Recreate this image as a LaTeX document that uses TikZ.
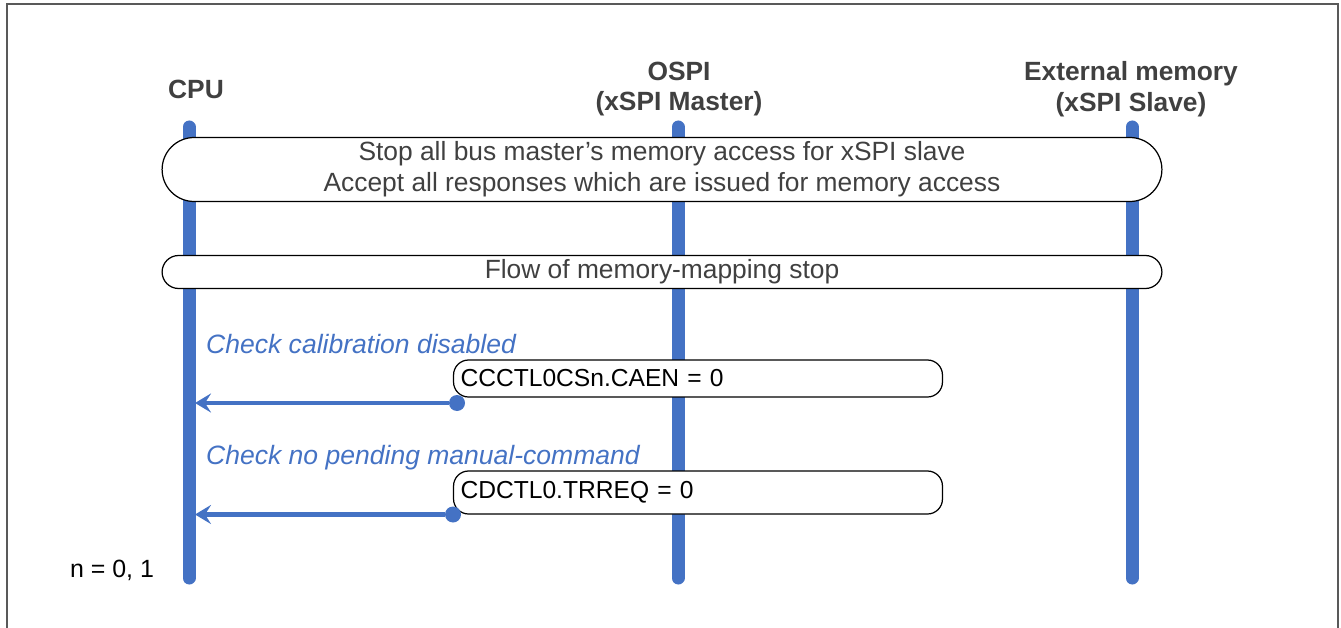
\documentclass[tikz,border=0pt]{standalone}
\usepackage{fontspec}
\setmainfont{Liberation Sans}
\usetikzlibrary{arrows.meta,positioning}
\definecolor{lifeblue}{RGB}{68,114,196}
\definecolor{headgray}{RGB}{64,64,64}
\definecolor{framegray}{RGB}{89,89,89}
\tikzset{
  lifeline/.style={line width=7.4pt,lifeblue,line cap=round},
  headtext/.style={font=\fontsize{15}{17.6}\selectfont\bfseries,text=headgray,align=center},
  banner/.style={draw,line width=0.7pt,fill=white,minimum width=20cm,inner ysep=0pt,
                 align=center,font=\fontsize{15}{17.6}\selectfont,text=headgray},
  regbox/.style={draw,line width=0.7pt,fill=white,rounded corners=0.3cm,
                 text width=9.5cm,inner xsep=0.14cm,inner ysep=0pt,align=left,
                 font=\fontsize{14}{17}\selectfont},
  checknote/.style={font=\fontsize{15.1}{17}\selectfont\itshape,text=lifeblue,anchor=west},
  enddot/.style={circle,fill=lifeblue,inner sep=0pt,minimum size=0.32cm},
  reply/.style={line width=2.3pt,lifeblue,-{Stealth[length=0.32cm,width=0.38cm,inset=0.12cm]}}
}
\begin{document}
\begin{tikzpicture}[x=0.02cm,y=-0.02cm]
  \useasboundingbox (0,0) rectangle (1341,628);
  % frame
  \draw[framegray,line width=1.1pt] (7,640) -- (7,4) -- (1338,4) -- (1338,640);
  % heads
  \node[headtext] (cpu) at (196,89) {CPU};
  \node[headtext] (ospi) at (679,89) {OSPI\\(xSPI Master)};
  \node[headtext] (extmem) at (1131,89) {External memory\\(xSPI Slave)};
  % lifelines
  \coordinate (cputop) at (189,127);
  \coordinate (cpubot) at (189,578);
  \coordinate (ospitop) at (678,127);
  \coordinate (ospibot) at (678,578);
  \coordinate (exttop) at (1132,127);
  \coordinate (extbot) at (1132,578);
  \draw[lifeline] (cputop) -- (cpubot);
  \draw[lifeline] (ospitop) -- (ospibot);
  \draw[lifeline] (exttop) -- (extbot);
  % banners
  \node[banner,minimum height=1.28cm,rounded corners=0.64cm] (stopall) at (662,169.5)
    {Stop all bus master’s memory access for xSPI slave\\Accept all responses which are issued for memory access};
  \node[banner,minimum height=0.66cm,rounded corners=0.33cm] (mapstop) at (662,272)
    {Flow of memory-mapping stop};
  % calibration check
  \node[checknote] (calnote) at (200,344) {Check calibration disabled};
  \node[regbox,minimum height=0.74cm] (caen) at (698,378.5) {CCCTL0CSn.CAEN = 0};
  \node[enddot] (caendot) at (457,403) {};
  \draw[reply] (caendot) -- (caendot -| 195,0);
  % manual command check
  \node[checknote] (cmdnote) at (200,458) {Check no pending manual-command};
  \node[regbox,minimum height=0.86cm] (trreq) at (698,492.5) {CDCTL0.TRREQ = 0};
  \node[enddot] (trreqdot) at (453,514.5) {};
  \draw[reply] (trreqdot) -- (trreqdot -| 195,0);
  % footnote
  \node[font=\fontsize{14.2}{17}\selectfont] (nnote) at (112,570) {n = 0, 1};
\end{tikzpicture}
\end{document}
